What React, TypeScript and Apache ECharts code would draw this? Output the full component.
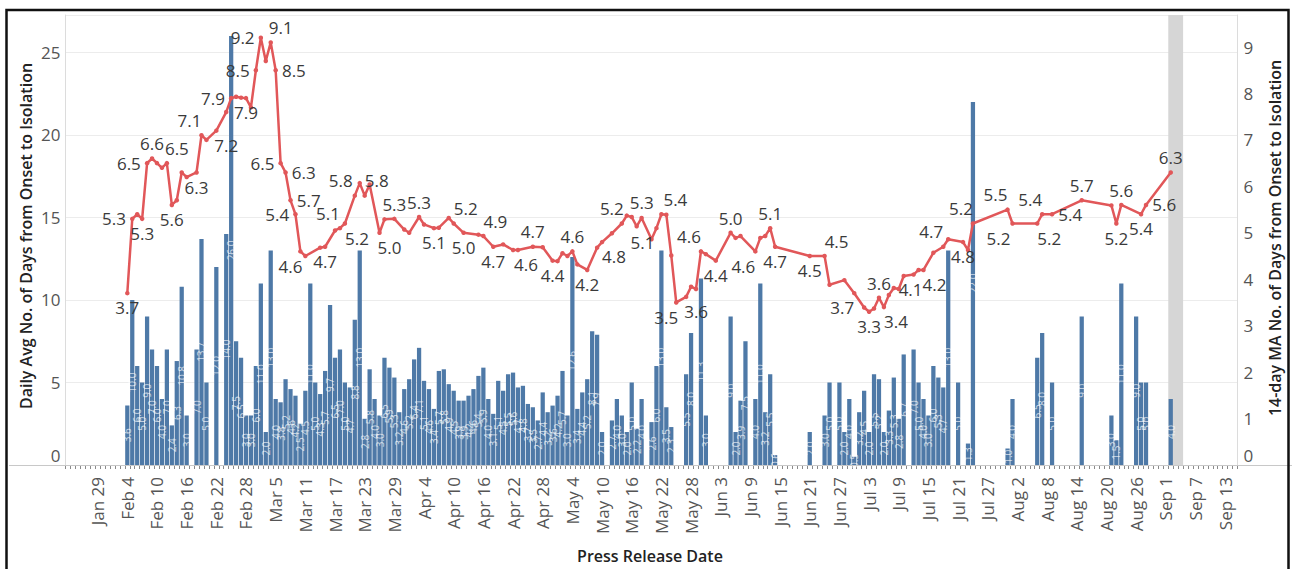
import React, { useEffect, useRef } from "react";
import * as echarts from "echarts";

// x axis: one category per day, Jan 23 – Sep 15 2020
const AXIS_FIRST_DAY = Date.UTC(2020, 0, 23);
const AXIS_DAY_COUNT = 237;
const MONTH_NAMES = ["Jan", "Feb", "Mar", "Apr", "May", "Jun", "Jul", "Aug", "Sep", "Oct", "Nov", "Dec"];
const LABEL_FIRST_INDEX = 6; // "Jan 29"
const LABEL_STEP = 6;

// Daily average no. of days from onset to isolation (bars, left axis)
const dailyAvg: [string, number][] = [
  ["Feb 4", 3.6], ["Feb 5", 10.0], ["Feb 6", 6.0], ["Feb 7", 5.0], ["Feb 8", 9.0], ["Feb 9", 7.0],
  ["Feb 10", 6.0], ["Feb 11", 4.0], ["Feb 12", 7.0], ["Feb 13", 2.4], ["Feb 14", 6.3], ["Feb 15", 10.8],
  ["Feb 16", 3.0], ["Feb 18", 7.0], ["Feb 19", 13.7], ["Feb 20", 5.0], ["Feb 22", 12.0], ["Feb 24", 14.0],
  ["Feb 25", 26.0], ["Feb 26", 7.5], ["Feb 27", 6.5], ["Feb 28", 3.0], ["Feb 29", 3.0], ["Mar 1", 6.0],
  ["Mar 2", 11.0], ["Mar 3", 2.0], ["Mar 4", 13.0], ["Mar 5", 4.0], ["Mar 6", 3.8], ["Mar 7", 5.2],
  ["Mar 8", 4.6], ["Mar 9", 4.2], ["Mar 10", 2.5], ["Mar 11", 4.5], ["Mar 12", 11.0], ["Mar 13", 5.0],
  ["Mar 14", 4.3], ["Mar 15", 5.7], ["Mar 16", 9.7], ["Mar 17", 6.5], ["Mar 18", 7.0], ["Mar 19", 5.0],
  ["Mar 20", 4.7], ["Mar 21", 8.8], ["Mar 22", 13.0], ["Mar 23", 2.8], ["Mar 24", 5.8], ["Mar 25", 4.0],
  ["Mar 26", 3.0], ["Mar 27", 6.5], ["Mar 28", 5.9], ["Mar 29", 5.3], ["Mar 30", 3.2], ["Mar 31", 4.6],
  ["Apr 1", 5.2], ["Apr 2", 6.4], ["Apr 3", 7.1], ["Apr 4", 5.1], ["Apr 5", 4.6], ["Apr 6", 3.4],
  ["Apr 7", 5.7], ["Apr 8", 5.8], ["Apr 9", 4.9], ["Apr 10", 4.5], ["Apr 11", 3.9], ["Apr 12", 3.9],
  ["Apr 13", 4.2], ["Apr 14", 4.6], ["Apr 15", 5.4], ["Apr 16", 5.9], ["Apr 17", 4.0], ["Apr 18", 3.1],
  ["Apr 19", 5.1], ["Apr 20", 4.5], ["Apr 21", 5.5], ["Apr 22", 5.6], ["Apr 23", 4.7], ["Apr 24", 4.8],
  ["Apr 25", 3.7], ["Apr 26", 3.5], ["Apr 27", 2.7], ["Apr 28", 4.4], ["Apr 29", 3.2], ["Apr 30", 3.6],
  ["May 1", 4.2], ["May 2", 5.7], ["May 3", 3.0], ["May 4", 12.6], ["May 5", 3.4], ["May 6", 4.4],
  ["May 7", 5.2], ["May 8", 8.1], ["May 9", 7.9], ["May 10", 2.0], ["May 12", 2.7], ["May 13", 4.0],
  ["May 14", 3.0], ["May 15", 2.0], ["May 16", 5.0], ["May 17", 2.2], ["May 18", 4.0], ["May 20", 2.6],
  ["May 21", 6.0], ["May 22", 13.0], ["May 23", 3.5], ["May 24", 2.3], ["May 27", 5.5], ["May 28", 8.0],
  ["May 30", 11.3], ["May 31", 3.0], ["Jun 5", 9.0], ["Jun 6", 2.0], ["Jun 7", 3.9], ["Jun 8", 7.5],
  ["Jun 10", 4.0], ["Jun 11", 11.0], ["Jun 12", 3.2], ["Jun 13", 5.5], ["Jun 14", 0.6], ["Jun 21", 2.0],
  ["Jun 24", 3.0], ["Jun 25", 5.0], ["Jun 27", 5.0], ["Jun 28", 2.0], ["Jun 29", 4.0], ["Jun 30", 0.5],
  ["Jul 1", 3.2], ["Jul 2", 4.5], ["Jul 3", 2.0], ["Jul 4", 5.5], ["Jul 5", 5.2], ["Jul 6", 2.0],
  ["Jul 7", 3.3], ["Jul 8", 5.3], ["Jul 9", 2.8], ["Jul 10", 6.7], ["Jul 12", 7.0], ["Jul 13", 5.0],
  ["Jul 14", 4.0], ["Jul 15", 3.0], ["Jul 16", 6.0], ["Jul 17", 5.3], ["Jul 18", 4.7], ["Jul 19", 13.0],
  ["Jul 21", 5.0], ["Jul 23", 1.3], ["Jul 24", 22.0], ["Jul 31", 1.0], ["Aug 1", 4.0], ["Aug 6", 6.5],
  ["Aug 7", 8.0], ["Aug 9", 5.0], ["Aug 15", 9.0], ["Aug 21", 3.0], ["Aug 22", 1.5], ["Aug 23", 11.0],
  ["Aug 26", 9.0], ["Aug 27", 5.0], ["Aug 28", 5.0], ["Sep 2", 4.0],
];

// 14-day moving average (line, right axis)
const movingAvg: [string, number][] = [
  ["Feb 4", 3.7], ["Feb 5", 5.3], ["Feb 6", 5.4], ["Feb 7", 5.3], ["Feb 8", 6.5], ["Feb 9", 6.6],
  ["Feb 10", 6.5], ["Feb 11", 6.4], ["Feb 12", 6.5], ["Feb 13", 5.6], ["Feb 14", 5.7], ["Feb 15", 6.3],
  ["Feb 16", 6.2], ["Feb 18", 6.3], ["Feb 19", 7.1], ["Feb 20", 7.0], ["Feb 22", 7.2], ["Feb 24", 7.6],
  ["Feb 25", 7.9], ["Feb 26", 7.93], ["Feb 27", 7.91], ["Feb 28", 7.9], ["Feb 29", 7.7], ["Mar 1", 8.5],
  ["Mar 2", 9.2], ["Mar 3", 8.7], ["Mar 4", 9.1], ["Mar 5", 8.5], ["Mar 6", 6.5], ["Mar 7", 6.3],
  ["Mar 8", 5.7], ["Mar 9", 5.4], ["Mar 10", 4.6], ["Mar 11", 4.5], ["Mar 14", 4.68], ["Mar 15", 4.7],
  ["Mar 17", 5.05], ["Mar 18", 5.1], ["Mar 19", 5.2], ["Mar 21", 5.8], ["Mar 22", 6.07], ["Mar 23", 5.8],
  ["Mar 24", 6.04], ["Mar 26", 5.0], ["Mar 27", 5.29], ["Mar 29", 5.3], ["Mar 31", 5.07], ["Apr 1", 5.0],
  ["Apr 3", 5.34], ["Apr 4", 5.18], ["Apr 6", 5.1], ["Apr 7", 5.11], ["Apr 9", 5.32], ["Apr 10", 5.2],
  ["Apr 12", 5.0], ["Apr 15", 4.96], ["Apr 16", 4.93], ["Apr 18", 4.7], ["Apr 20", 4.75], ["Apr 22", 4.63],
  ["Apr 23", 4.63], ["Apr 26", 4.7], ["Apr 28", 4.69], ["Apr 30", 4.4], ["May 1", 4.39], ["May 2", 4.56],
  ["May 3", 4.5], ["May 4", 4.6], ["May 5", 4.32], ["May 7", 4.2], ["May 9", 4.68], ["May 10", 4.8],
  ["May 12", 4.99], ["May 14", 5.2], ["May 15", 5.37], ["May 16", 5.34], ["May 17", 5.14], ["May 18", 5.32],
  ["May 20", 4.86], ["May 21", 5.1], ["May 22", 5.4], ["May 23", 5.39], ["May 24", 4.51], ["May 25", 3.5],
  ["May 27", 3.62], ["May 28", 3.84], ["May 29", 3.79], ["May 30", 4.6], ["May 31", 4.54], ["Jun 2", 4.4],
  ["Jun 5", 5.0], ["Jun 6", 4.89], ["Jun 7", 4.93], ["Jun 10", 4.6], ["Jun 11", 4.89], ["Jun 12", 4.93],
  ["Jun 13", 5.1], ["Jun 14", 4.7], ["Jun 21", 4.5], ["Jun 24", 4.5], ["Jun 25", 3.88], ["Jun 28", 3.98],
  ["Jun 30", 3.7], ["Jul 2", 3.39], ["Jul 3", 3.3], ["Jul 4", 3.37], ["Jul 5", 3.6], ["Jul 6", 3.4],
  ["Jul 7", 3.66], ["Jul 8", 3.81], ["Jul 9", 3.79], ["Jul 10", 4.07], ["Jul 12", 4.1], ["Jul 13", 4.2],
  ["Jul 14", 4.2], ["Jul 16", 4.57], ["Jul 18", 4.7], ["Jul 19", 4.86], ["Jul 22", 4.8], ["Jul 23", 4.63],
  ["Jul 24", 5.2], ["Jul 31", 5.5], ["Aug 1", 5.2], ["Aug 6", 5.2], ["Aug 7", 5.4], ["Aug 9", 5.4],
  ["Aug 15", 5.7], ["Aug 21", 5.59], ["Aug 22", 5.2], ["Aug 23", 5.6], ["Aug 27", 5.4], ["Aug 28", 5.6],
  ["Sep 2", 6.3],
];

// which moving-average points carry a value label, and on which side
const movingAvgLabelled: [string, string, number][] = [
  ["Feb 4", "bottom", 0], ["Feb 5", "left", 0], ["Feb 7", "bottom", 0], ["Feb 8", "left", 0],
  ["Feb 9", "top", 0], ["Feb 12", "top", 10], ["Feb 13", "bottom", 0], ["Feb 18", "bottom", 0],
  ["Feb 19", "top", -12], ["Feb 22", "bottom", 10], ["Feb 25", "left", 0], ["Feb 28", "bottom", 0],
  ["Mar 1", "left", 0], ["Mar 2", "left", 0], ["Mar 4", "top", 10], ["Mar 5", "right", 0],
  ["Mar 6", "left", 0], ["Mar 7", "right", 0], ["Mar 8", "right", 0], ["Mar 9", "left", 0],
  ["Mar 10", "bottom", -10], ["Mar 15", "bottom", 0], ["Mar 18", "top", -12], ["Mar 19", "bottom", 12],
  ["Mar 21", "top", -14], ["Mar 23", "top", 12], ["Mar 26", "bottom", 10], ["Mar 29", "top", 0],
  ["Apr 3", "top", 0], ["Apr 6", "bottom", 0], ["Apr 10", "top", 12], ["Apr 12", "bottom", 0],
  ["Apr 16", "top", 12], ["Apr 18", "bottom", 0], ["Apr 22", "bottom", 13], ["Apr 26", "top", 0],
  ["Apr 30", "bottom", 0], ["May 4", "top", 0], ["May 7", "bottom", 0], ["May 10", "bottom", 12],
  ["May 14", "top", -10], ["May 16", "top", 10], ["May 21", "bottom", -14], ["May 22", "top", 14],
  ["May 25", "bottom", -10], ["May 27", "bottom", 10], ["May 30", "top", -12], ["Jun 2", "bottom", 0],
  ["Jun 5", "top", 0], ["Jun 10", "bottom", -12], ["Jun 13", "top", 0], ["Jun 14", "bottom", 0],
  ["Jun 21", "bottom", 0], ["Jun 24", "top", 12], ["Jun 30", "bottom", -12], ["Jul 3", "bottom", 0],
  ["Jul 5", "top", 0], ["Jul 6", "bottom", 12], ["Jul 12", "bottom", -3], ["Jul 13", "bottom", 16],
  ["Jul 18", "top", -12], ["Jul 22", "bottom", 0], ["Jul 24", "top", -12], ["Jul 31", "top", -12],
  ["Aug 1", "bottom", -14], ["Aug 6", "bottom", 12], ["Aug 7", "top", -12], ["Aug 9", "right", 0],
  ["Aug 15", "top", 0], ["Aug 22", "bottom", 0], ["Aug 23", "top", 0], ["Aug 27", "bottom", 0],
  ["Aug 28", "right", 0], ["Sep 2", "top", 0],
];

const highlightFrom = "Sep 2";
const highlightTo = "Sep 4";

const leftTickStep = 5;
const rightTickStep = 1;

const FONT = "'Open Sans', 'Noto Sans', sans-serif";
const BAR_COLOR = "#4e79a7";
const LINE_COLOR = "#e15759";
const TEXT_COLOR = "#555555";

function buildCategories(): string[] {
  const out: string[] = [];
  for (let i = 0; i < AXIS_DAY_COUNT; i++) {
    const d = new Date(AXIS_FIRST_DAY + i * 86400000);
    out.push(`${MONTH_NAMES[d.getUTCMonth()]} ${d.getUTCDate()}`);
  }
  return out;
}

export default function App() {
  const ref = useRef<HTMLDivElement>(null);

  useEffect(() => {
    if (!ref.current) return;
    const chart = echarts.init(ref.current, undefined, { renderer: "svg" });
    const categories = buildCategories();
    const indexOf = (name: string) => categories.indexOf(name);

    const barData: any[] = categories.map(() => "-");
    dailyAvg.forEach(([day, v]) => {
      barData[indexOf(day)] = v;
    });

    const labelMap = new Map<string, [string, number]>();
    movingAvgLabelled.forEach(([day, pos, dx]) => labelMap.set(day, [pos, dx]));
    const lineData: any[] = categories.map(() => "-");
    movingAvg.forEach(([day, v]) => {
      const lab = labelMap.get(day);
      lineData[indexOf(day)] = lab
        ? { value: v, label: { show: true, position: lab[0], offset: [lab[1], 0] } }
        : v;
    });

    const zeroRich = (size: number) => ({
      z: { padding: [0, 0, 20, 0], fontSize: size, color: TEXT_COLOR, fontFamily: FONT },
    });

    const option: any = {
      animation: false,
      textStyle: { fontFamily: FONT },
      grid: { left: 65.5, right: 54.5, top: 15, bottom: 104, containLabel: false },
      xAxis: {
        type: "category",
        data: categories,
        boundaryGap: true,
        axisLine: { show: false },
        axisTick: { show: true, interval: 0, length: 4, lineStyle: { color: "#8a8a8a", width: 1 } },
        axisLabel: {
          interval: (i: number) => i >= LABEL_FIRST_INDEX && (i - LABEL_FIRST_INDEX) % LABEL_STEP === 0,
          rotate: 90,
          margin: 12,
          fontSize: 17,
          color: TEXT_COLOR,
          fontFamily: FONT,
        },
        splitLine: { show: false },
      },
      yAxis: [
        {
          type: "value",
          position: "left",
          min: 0,
          max: 27.27,
          interval: leftTickStep,
          axisLine: { show: true, lineStyle: { color: "#dcdcdc" } },
          axisTick: { show: false },
          axisLabel: {
            showMaxLabel: false,
            margin: 5,
            fontSize: 17,
            color: TEXT_COLOR,
            fontFamily: FONT,
            formatter: (v: number) => (v === 0 ? "{z|0}" : String(v)),
            rich: zeroRich(17),
          },
          splitLine: { show: true, lineStyle: { color: "#ececec", width: 1 } },
        },
        {
          type: "value",
          position: "right",
          min: 0,
          max: 9.69,
          interval: rightTickStep,
          axisLine: { show: true, lineStyle: { color: "#dcdcdc" } },
          axisTick: { show: false },
          axisLabel: {
            showMaxLabel: false,
            margin: 6,
            fontSize: 17,
            color: TEXT_COLOR,
            fontFamily: FONT,
            formatter: (v: number) => (v === 0 ? "{z|0}" : String(v)),
            rich: zeroRich(17),
          },
          splitLine: { show: false },
        },
      ],
      series: [
        {
          name: "Daily Avg",
          type: "bar",
          yAxisIndex: 0,
          data: barData,
          barWidth: "86%",
          itemStyle: { color: BAR_COLOR },
          z: 2,
          label: {
            show: true,
            position: "inside",
            rotate: 90,
            fontSize: 10,
            color: "rgba(255,255,255,0.72)",
            fontFamily: FONT,
            formatter: (p: any) => Number(p.value).toFixed(1),
          },
          markArea: {
            silent: true,
            itemStyle: { color: "#d6d6d6" },
            data: [[{ xAxis: highlightFrom }, { xAxis: highlightTo }]],
          },
        },
        {
          name: "14-day MA",
          type: "line",
          yAxisIndex: 1,
          data: lineData,
          connectNulls: true,
          showAllSymbol: true,
          symbol: "circle",
          symbolSize: 4.5,
          z: 5,
          lineStyle: { color: LINE_COLOR, width: 2.5 },
          itemStyle: { color: LINE_COLOR },
          label: {
            show: false,
            fontSize: 17,
            color: "#3a3a3a",
            fontFamily: FONT,
            distance: 4,
            formatter: (p: any) => Number(p.value).toFixed(1),
          },
        },
      ],
      graphic: [
        {
          type: "line",
          silent: true,
          z: 50,
          shape: { x1: 9, y1: 465.5, x2: 1292, y2: 465.5 },
          style: { stroke: "#c8c8c8", lineWidth: 1 },
        },
        {
          type: "text",
          silent: true,
          x: 25.5,
          y: 236,
          rotation: Math.PI / 2,
          style: {
            text: "Daily Avg No. of Days from Onset to Isolation",
            fill: "#222",
            font: `600 16px ${FONT}`,
            align: "center",
            verticalAlign: "middle",
          },
        },
        {
          type: "text",
          silent: true,
          x: 1275,
          y: 238,
          rotation: Math.PI / 2,
          style: {
            text: "14-day MA No. of Days from Onset to Isolation",
            fill: "#222",
            font: `600 16px ${FONT}`,
            align: "center",
            verticalAlign: "middle",
          },
        },
        {
          type: "text",
          silent: true,
          x: 650,
          y: 556,
          style: {
            text: "Press Release Date",
            fill: "#222",
            font: `600 16px ${FONT}`,
            align: "center",
            verticalAlign: "middle",
          },
        },
        {
          type: "rect",
          silent: true,
          z: 100,
          shape: { x: 6.5, y: 10, width: 1282, height: 600 },
          style: { fill: "rgba(0,0,0,0)", stroke: "#111", lineWidth: 2.5 },
        },
      ],
    };

    chart.setOption(option);
    return () => chart.dispose();
  }, []);

  return (
    <div style={{ position: "fixed", left: 0, top: 0, width: 1292, height: 569, background: "#fff" }}>
      <div ref={ref} style={{ width: 1292, height: 569 }} />
    </div>
  );
}
